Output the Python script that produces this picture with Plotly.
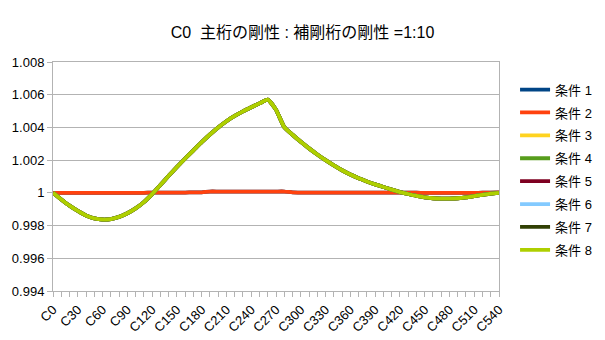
import plotly.graph_objects as go

categories = ["C%d" % v for v in range(0, 550, 10)]

flat_values = [
    1.0000, 1.0000, 1.0000, 1.0000, 1.0000, 1.0000, 1.0000, 1.0000, 1.0000, 1.0000,
    1.0000, 1.0000, 1.00002, 1.00002, 1.00002, 1.00002, 1.00002, 1.00003, 1.00003, 1.00008,
    1.00008, 1.00008, 1.00008, 1.00008, 1.00008, 1.00008, 1.00008, 1.00008, 1.00008, 1.00003,
    1.00002, 1.00002, 1.00002, 1.00002, 1.00002, 1.00002, 1.00002, 1.00002, 1.00002, 1.00002,
    1.00002, 1.00002, 1.00002, 1.00001, 1.00001, 1.0000, 1.0000, 1.0000, 1.0000, 1.0000,
    1.0000, 1.0000, 1.00001, 1.00002, 1.00003,
]

curve_values = [
    1.00000, 0.99960, 0.99922, 0.99890, 0.99862, 0.99844, 0.99837, 0.99840, 0.99853, 0.99875,
    0.99905, 0.99943, 0.99992, 1.00048, 1.00104, 1.00158, 1.00210, 1.00260, 1.00310, 1.00357,
    1.00400, 1.00438, 1.00470, 1.00498, 1.00523, 1.00547, 1.00570, 1.00508, 1.00402, 1.00355,
    1.00312, 1.00272, 1.00235, 1.00200, 1.00168, 1.00138, 1.00112, 1.00090, 1.00070, 1.00052,
    1.00036, 1.00020, 1.00005, 0.99993, 0.99982, 0.99973, 0.99967, 0.99965, 0.99965, 0.99967,
    0.99972, 0.99980, 0.99988, 0.99995, 1.00000,
]

series_names = ["条件 1", "条件 2", "条件 3", "条件 4", "条件 5", "条件 6", "条件 7", "条件 8"]
series_values = [flat_values, flat_values, curve_values, curve_values,
                 curve_values, curve_values, curve_values, curve_values]
series_colors = ["#004586", "#ff420e", "#ffd320", "#579d1c",
                 "#7e0021", "#83caff", "#314004", "#aecf00"]

y_ticks = [0.994, 0.996, 0.998, 1.0, 1.002, 1.004, 1.006, 1.008]
y_tick_text = ["0.994", "0.996", "0.998", "1", "1.002", "1.004", "1.006", "1.008"]

x_index = list(range(len(categories)))
label_idx = x_index[::3]

fig = go.Figure()
for name, vals, col in zip(series_names, series_values, series_colors):
    fig.add_trace(go.Scatter(
        x=x_index, y=vals, name=name, mode="lines",
        line=dict(color=col, width=3.8, shape="spline", smoothing=0.5),
        legendgroup=name,
    ))

font_family = "Liberation Sans, Noto Sans CJK JP, sans-serif"

fig.update_layout(
    width=605, height=340,
    margin=dict(l=53, r=106, t=62, b=49, autoexpand=False),
    paper_bgcolor="white", plot_bgcolor="white",
    font=dict(family=font_family, size=12, color="black"),
    title=dict(text="C0  主桁の剛性 : 補剛桁の剛性 =1:10", x=0.5, xanchor="center",
               y=0.905, yanchor="middle", font=dict(size=16, family=font_family)),
    showlegend=True,
    legend=dict(x=1.036, xanchor="left", xref="paper", y=0.945, yanchor="top",
                font=dict(size=13, family=font_family), tracegroupgap=3,
                itemwidth=30, bgcolor="rgba(0,0,0,0)"),
    xaxis=dict(
        range=[0, len(categories) - 1], automargin=False,
        tickmode="array", tickvals=label_idx,
        ticktext=[categories[i] for i in label_idx],
        tickangle=-45, ticks="outside", ticklen=5, tickcolor="#b3b3b3",
        showgrid=False, showline=True, linecolor="#b3b3b3", linewidth=1,
        mirror=True, zeroline=False,
        tickfont=dict(size=13, family=font_family),
        minor=dict(dtick=1, tick0=0, ticks="outside", ticklen=5, tickcolor="#b3b3b3", showgrid=False),
    ),
    yaxis=dict(
        range=[0.994, 1.008], automargin=False,
        tickmode="array", tickvals=y_ticks, ticktext=y_tick_text,
        ticks="outside", ticklen=5, tickcolor="#b3b3b3",
        showgrid=True, gridcolor="#b3b3b3", gridwidth=1,
        showline=True, linecolor="#b3b3b3", linewidth=1, mirror=True,
        zeroline=False, tickfont=dict(size=13, family=font_family),
    ),
)

fig.write_html("out.html")
